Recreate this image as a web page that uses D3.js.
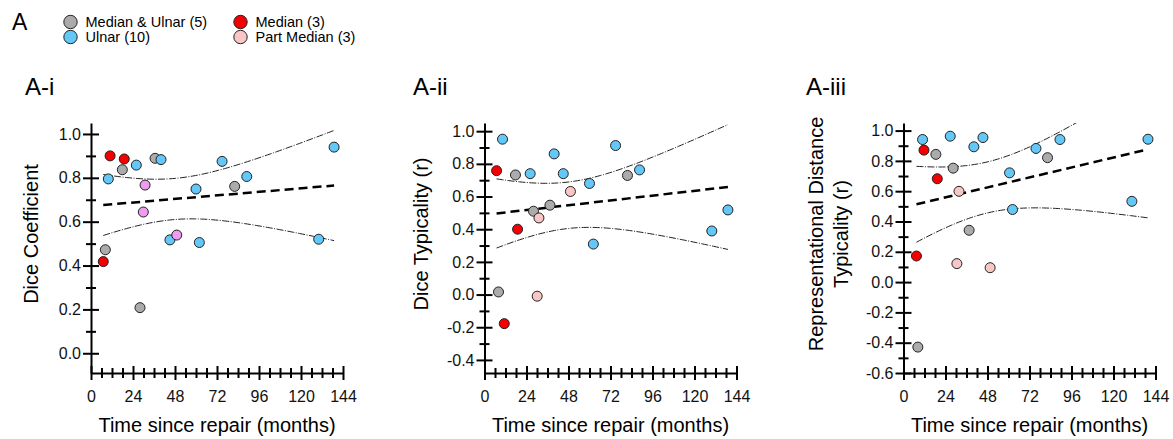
<!DOCTYPE html>
<html>
<head>
<meta charset="utf-8">
<script src="https://cdn.jsdelivr.net/npm/d3@7/dist/d3.min.js"></script>
<style>
body { margin: 0; background: #fff; }
svg { display: block; font-family: "Liberation Sans", Arial, sans-serif; }
</style>
</head>
<body>
<svg id="chart" width="1173" height="439"></svg>
<script>
// group codes: mu = Median & Ulnar, m = Median, u = Ulnar, pm = Part Median
var groupNames = ["mu", "m", "u", "pm"];
var groupLabels = ["Median & Ulnar (5)", "Median (3)", "Ulnar (10)", "Part Median (3)"];

// A-i  Dice coefficient
var monthsA1 = [10.9, 19, 17.9, 25.9, 36.6, 40, 9.9, 30.9, 74.9, 60, 82.1, 89, 138.9, 29.9, 45.1, 49, 61.9, 130.1, 8.2, 7, 28];
var diceCoef = [0.90, 0.886, 0.837, 0.858, 0.889, 0.883, 0.795, 0.767, 0.875, 0.749, 0.761, 0.806, 0.94, 0.644, 0.517, 0.539, 0.505, 0.52, 0.472, 0.418, 0.208];
var groupA1 = ["m", "m", "mu", "u", "mu", "u", "u", "pm", "u", "u", "mu", "u", "u", "pm", "u", "pm", "u", "u", "mu", "m", "mu"];

// A-ii  Dice typicality
var monthsA2 = [10.3, 6.9, 17.7, 26.1, 39.8, 45, 74.9, 60, 81.7, 88.6, 49.1, 28, 37.4, 31.1, 18.9, 62.2, 129.9, 139.1, 8, 30.1, 11.3];
var diceTyp = [0.951, 0.758, 0.732, 0.74, 0.861, 0.74, 0.912, 0.68, 0.729, 0.763, 0.631, 0.51, 0.547, 0.469, 0.40, 0.309, 0.389, 0.518, 0.016, -0.01, -0.178];
var groupA2 = ["u", "m", "mu", "u", "u", "u", "u", "u", "mu", "u", "pm", "mu", "mu", "pm", "m", "u", "u", "u", "mu", "pm", "m"];

// A-iii  Representational distance typicality
var monthsA3 = [10.9, 11.7, 18.5, 26.7, 40.2, 45.4, 28.4, 19.3, 31.7, 60.6, 75.7, 82.3, 89.4, 139.7, 130.5, 62.3, 37.5, 7.4, 30.5, 49.5, 8.2];
var rdTyp = [0.941, 0.871, 0.843, 0.963, 0.893, 0.954, 0.752, 0.682, 0.599, 0.721, 0.882, 0.821, 0.941, 0.943, 0.533, 0.479, 0.342, 0.172, 0.122, 0.095, -0.429];
var groupA3 = ["u", "m", "mu", "u", "u", "u", "mu", "m", "pm", "u", "u", "mu", "u", "u", "u", "u", "mu", "m", "pm", "pm", "mu"];

var xTicks = [0, 24, 48, 72, 96, 120, 144];
var xMinor = [6, 12, 18, 30, 36, 42, 54, 60, 66, 78, 84, 90, 102, 108, 114, 126, 132, 138];
var yTicksA1 = [0, 0.2, 0.4, 0.6, 0.8, 1.0];
var yMinorA1 = [0.1, 0.3, 0.5, 0.7, 0.9];
var yTicksA2 = [-0.4, -0.2, 0, 0.2, 0.4, 0.6, 0.8, 1.0];
var yMinorA2 = [-0.3, -0.1, 0.1, 0.3, 0.5, 0.7, 0.9];
var yTicksA3 = [-0.6, -0.4, -0.2, 0, 0.2, 0.4, 0.6, 0.8, 1.0];
var yMinorA3 = [-0.5, -0.3, -0.1, 0.1, 0.3, 0.5, 0.7, 0.9];

var colors = { mu: "#ababab", m: "#f50000", u: "#63c8f7", pm: "#f9c6c6" };
var tCrit = 2.093; // t(0.975, df = 19), n = 21 in every panel

var svg = d3.select("#chart");
var plotBottom = 373, plotTop = 123, plotW = 252;

// header
svg.append("text").attr("x", 12).attr("y", 30).attr("font-size", 23).text("A");
var legendPos = [[70.5, 22], [240.5, 22], [70.5, 37], [240.5, 37]];
var leg = svg.append("g");
groupNames.forEach(function(g, i) {
	leg.append("circle")
		.attr("cx", legendPos[i][0]).attr("cy", legendPos[i][1]).attr("r", 6.7)
		.attr("fill", colors[g]).attr("stroke", "#222").attr("stroke-width", 1);
	leg.append("text")
		.attr("x", legendPos[i][0] + 15).attr("y", legendPos[i][1])
		.attr("dy", "0.35em").attr("font-size", 14.5)
		.text(groupLabels[i]);
});

var panels = [
	{ months: monthsA1, values: diceCoef, groups: groupA1, title: "A-i", titleX: 25, axisX: 91,
	  yMin: -0.09, yTicks: yTicksA1, yMinor: yMinorA1, yLabel: ["Dice Coefficient"], labelX: [37.5],
	  pmColor: "#ee9cee" },
	{ months: monthsA2, values: diceTyp, groups: groupA2, title: "A-ii", titleX: 413, axisX: 484.5,
	  yMin: -0.48, yTicks: yTicksA2, yMinor: yMinorA2, yLabel: ["Dice Typicality (r)"], labelX: [427.5] },
	{ months: monthsA3, values: rdTyp, groups: groupA3, title: "A-iii", titleX: 806, axisX: 903.5,
	  yMin: -0.6, yTicks: yTicksA3, yMinor: yMinorA3, yLabel: ["Representational Distance", "Typicality (r)"], labelX: [822.5, 847.5] }
];

function fit(xs, ys) {
	var n = xs.length, mx = d3.mean(xs), my = d3.mean(ys);
	var sxx = d3.sum(xs, function(x) { return (x - mx) * (x - mx); });
	var sxy = d3.sum(xs, function(x, i) { return (x - mx) * (ys[i] - my); });
	var b = sxy / sxx, a = my - b * mx;
	var sse = d3.sum(xs, function(x, i) { var r = ys[i] - a - b * x; return r * r; });
	var s = Math.sqrt(sse / (n - 2));
	return { a: a, b: b, half: function(x) { return tCrit * s * Math.sqrt(1 / n + (x - mx) * (x - mx) / sxx); } };
}

panels.forEach(function(p, pi) {
	var x = d3.scaleLinear().domain([0, 144]).range([p.axisX, p.axisX + plotW]);
	var y = d3.scaleLinear().domain([p.yMin, 1.05]).range([plotBottom, plotTop]);

	svg.append("text").attr("x", p.titleX).attr("y", 95).attr("font-size", 24).text(p.title);

	// y label
	p.yLabel.forEach(function(t, i) {
		svg.append("text")
			.attr("transform", "translate(" + p.labelX[i] + ",234) rotate(-90)")
			.attr("text-anchor", "middle").attr("font-size", 20).text(t);
	});
	svg.append("text")
		.attr("x", x(72)).attr("y", 432)
		.attr("text-anchor", "middle").attr("font-size", 20)
		.text("Time since repair (months)");

	// regression + 95% band
	var clipId = "clip" + pi;
	svg.append("clipPath").attr("id", clipId).append("rect")
		.attr("x", p.axisX).attr("y", plotTop).attr("width", plotW + 10).attr("height", plotBottom - plotTop);
	var f = fit(p.months, p.values);
	var lo = d3.min(p.months), hi = d3.max(p.months);
	var xs = d3.range(0, 81).map(function(i) { return lo + (hi - lo) * i / 80; });
	var lineG = svg.append("g").attr("clip-path", "url(#" + clipId + ")");
	var mk = function(fn) {
		return d3.line().x(function(d) { return x(d); }).y(function(d) { return y(fn(d)); });
	};
	lineG.append("path").datum(xs)
		.attr("d", mk(function(d) { return f.a + f.b * d + f.half(d); }))
		.attr("fill", "none").attr("stroke", "#222").attr("stroke-width", 1)
		.attr("stroke-dasharray", "7,1.5,1,1.5");
	lineG.append("path").datum(xs)
		.attr("d", mk(function(d) { return f.a + f.b * d - f.half(d); }))
		.attr("fill", "none").attr("stroke", "#222").attr("stroke-width", 1)
		.attr("stroke-dasharray", "7,1.5,1,1.5");
	lineG.append("path").datum([lo, hi])
		.attr("d", mk(function(d) { return f.a + f.b * d; }))
		.attr("fill", "none").attr("stroke", "#000").attr("stroke-width", 2.5)
		.attr("stroke-dasharray", "9,5");

	// axes
	var yAx = svg.append("g").attr("transform", "translate(" + p.axisX + ",0)")
		.call(d3.axisLeft(y).tickValues(p.yTicks).tickSize(8).tickSizeOuter(0).tickPadding(2)
			.tickFormat(function(d) { return d.toFixed(1); }));
	yAx.selectAll(".tick line").attr("x1", 8);
	var yMin = svg.append("g").attr("transform", "translate(" + p.axisX + ",0)")
		.call(d3.axisLeft(y).tickValues(p.yMinor).tickSize(5).tickFormat(""));
	yMin.select(".domain").remove();
	yMin.selectAll(".tick line").attr("x1", 5);

	var xAx = svg.append("g").attr("transform", "translate(0," + plotBottom + ")")
		.call(d3.axisBottom(x).tickValues(xTicks).tickSize(7).tickSizeOuter(0).tickPadding(11));
	xAx.selectAll(".tick line").attr("y1", -7);
	var xMin = svg.append("g").attr("transform", "translate(0," + plotBottom + ")")
		.call(d3.axisBottom(x).tickValues(xMinor).tickSize(5).tickFormat(""));
	xMin.select(".domain").remove();
	xMin.selectAll(".tick line").attr("y1", -5);

	[yAx, yMin, xAx, xMin].forEach(function(g) {
		g.attr("font-family", null).attr("font-size", 16);
		g.selectAll("path, line").attr("stroke", "#000").attr("stroke-width", 2);
		g.selectAll("text").attr("fill", "#111");
	});

	// points
	svg.append("g").selectAll("circle")
		.data(p.months.map(function(m, i) { return { m: m, v: p.values[i], g: p.groups[i] }; }))
		.enter().append("circle")
		.attr("cx", function(d) { return x(d.m); })
		.attr("cy", function(d) { return y(d.v); })
		.attr("r", 5)
		.attr("fill", function(d) { return d.g === "pm" && p.pmColor ? p.pmColor : colors[d.g]; })
		.attr("stroke", "#222").attr("stroke-width", 1);
});
</script>
</body>
</html>
